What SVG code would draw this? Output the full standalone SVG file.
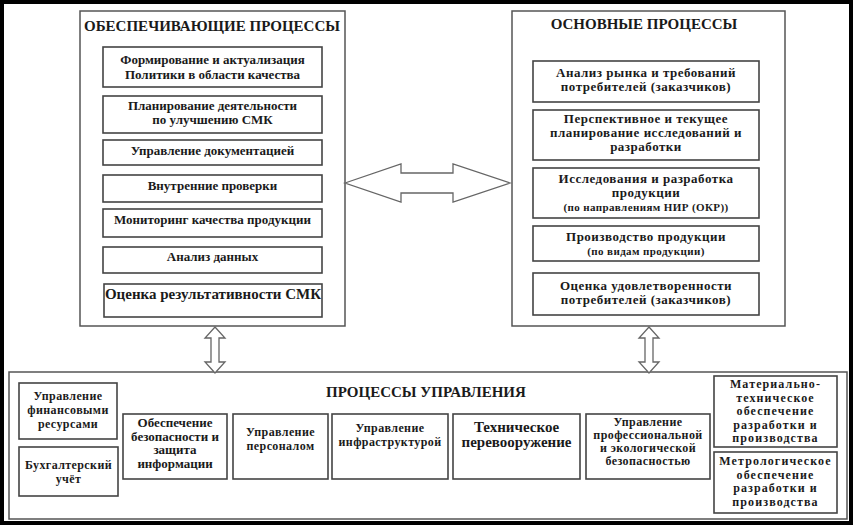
<svg xmlns="http://www.w3.org/2000/svg" width="853" height="525" viewBox="0 0 853 525">
<style>
.frame{fill:#fff;stroke:#555;stroke-width:1.5}
.box{fill:#fff;stroke:#444;stroke-width:1.6}
text{font-family:"Liberation Serif","Times New Roman",serif;font-weight:bold;fill:#1a1a1a;text-anchor:middle}
.t{font-size:15px}
.s13{font-size:13px}
.s12{font-size:12px;letter-spacing:0.4px}
.s11{font-size:11px;letter-spacing:0.4px}
.r13{font-size:13px;letter-spacing:0.5px}
.s15{font-size:15px}
.w12{font-size:12px;letter-spacing:1.1px}
.arr{fill:#fff;stroke:#666;stroke-width:1.3;stroke-linejoin:miter}
</style>
<rect x="0" y="0" width="853" height="525" fill="#000"/>
<rect x="4" y="4" width="845" height="517" fill="#fff"/>

<g id="support">
<rect class="frame" x="80" y="11" width="265" height="315"/>
<text class="t" x="212" y="31">ОБЕСПЕЧИВАЮЩИЕ ПРОЦЕССЫ</text>
</g>
<g id="s1"><rect class="box" x="103" y="47" width="219" height="40"/>
<text class="s13" x="212.5" y="64">Формирование и актуализация</text>
<text class="s13" x="212.5" y="79">Политики в области качества</text></g>
<g id="s2"><rect class="box" x="103" y="96" width="219" height="37"/>
<text class="s13" x="212.5" y="110">Планирование деятельности</text>
<text class="s13" x="212.5" y="124">по улучшению СМК</text></g>
<g id="s3"><rect class="box" x="103" y="140" width="219" height="25"/>
<text class="s13" x="212.5" y="155">Управление документацией</text></g>
<g id="s4"><rect class="box" x="103" y="175" width="219" height="27"/>
<text class="s13" x="212.5" y="190">Внутренние проверки</text></g>
<g id="s5"><rect class="box" x="103" y="209" width="219" height="28"/>
<text class="s13" x="212.5" y="224">Мониторинг качества продукции</text></g>
<g id="s6"><rect class="box" x="103" y="247" width="219" height="26"/>
<text class="s13" x="212.5" y="261">Анализ данных</text></g>
<g id="s7"><rect class="box" x="104" y="284" width="218" height="33"/>
<text class="s15" x="213" y="299">Оценка результативности СМК</text></g>

<g id="main">
<rect class="frame" x="512" y="11" width="273" height="315"/>
<text class="t" x="644" y="29">ОСНОВНЫЕ ПРОЦЕССЫ</text>
</g>
<g id="m1"><rect class="box" x="533" y="61" width="226" height="41"/>
<text class="r13" x="646" y="77">Анализ рынка и требований</text>
<text class="r13" x="646" y="91">потребителей (заказчиков)</text></g>
<g id="m2"><rect class="box" x="533" y="110" width="226" height="50"/>
<text class="r13" x="646" y="123">Перспективное и текущее</text>
<text class="r13" x="646" y="137">планирование исследований и</text>
<text class="r13" x="646" y="151">разработки</text></g>
<g id="m3"><rect class="box" x="533" y="168" width="226" height="50"/>
<text class="r13" x="646" y="183">Исследования и разработка</text>
<text class="r13" x="646" y="197">продукции</text>
<text class="s11" x="646" y="211">(по направлениям НИР (ОКР))</text></g>
<g id="m4"><rect class="box" x="533" y="226" width="226" height="35"/>
<text class="r13" x="646" y="241">Производство продукции</text>
<text class="s11" x="646" y="255">(по видам продукции)</text></g>
<g id="m5"><rect class="box" x="533" y="273" width="226" height="42"/>
<text class="r13" x="646" y="290">Оценка удовлетворенности</text>
<text class="r13" x="646" y="304">потребителей (заказчиков)</text></g>

<g id="mgmt">
<rect class="frame" x="9" y="372" width="838" height="147"/>
<text class="t" x="426" y="397">ПРОЦЕССЫ УПРАВЛЕНИЯ</text>
</g>
<g id="b1"><rect class="box" x="19" y="383" width="98" height="56"/>
<text class="s12" x="68" y="400">Управление</text>
<text class="s12" x="68" y="414">финансовыми</text>
<text class="s12" x="68" y="428">ресурсами</text></g>
<g id="b2"><rect class="box" x="19" y="447" width="99" height="49"/>
<text class="s12" x="68.5" y="469">Бухгалтерский</text>
<text class="s12" x="68.5" y="483">учёт</text></g>
<g id="b3"><rect class="box" x="123" y="414" width="104" height="65"/>
<text class="s13" x="175" y="427">Обеспечение</text>
<text class="s13" x="175" y="440.5">безопасности и</text>
<text class="s13" x="175" y="454">защита</text>
<text class="s13" x="175" y="467.5">информации</text></g>
<g id="b4"><rect class="box" x="233" y="414" width="95" height="65"/>
<text class="s12" x="280.5" y="436">Управление</text>
<text class="s12" x="280.5" y="450">персоналом</text></g>
<g id="b5"><rect class="box" x="332" y="414" width="116" height="65"/>
<text class="s12" x="390" y="432">Управление</text>
<text class="s12" x="390" y="446">инфраструктурой</text></g>
<g id="b6"><rect class="box" x="453" y="414" width="127" height="65"/>
<text class="s15" x="516.5" y="432">Техническое</text>
<text class="s15" x="516.5" y="447">перевооружение</text></g>
<g id="b7"><rect class="box" x="586" y="414" width="124" height="65"/>
<text class="s12" x="648" y="426">Управление</text>
<text class="s12" x="648" y="439">профессиональной</text>
<text class="s12" x="648" y="452">и экологической</text>
<text class="s12" x="648" y="465">безопасностью</text></g>
<g id="b8"><rect class="box" x="714" y="376" width="123" height="71"/>
<text class="w12" x="775.5" y="388">Материально-</text>
<text class="w12" x="775.5" y="401.5">техническое</text>
<text class="w12" x="775.5" y="415">обеспечение</text>
<text class="w12" x="775.5" y="428.5">разработки и</text>
<text class="w12" x="775.5" y="442">производства</text></g>
<g id="b9"><rect class="box" x="714" y="452" width="123" height="61"/>
<text class="w12" x="775.5" y="465">Метрологическое</text>
<text class="w12" x="775.5" y="478.5">обеспечение</text>
<text class="w12" x="775.5" y="492">разработки и</text>
<text class="w12" x="775.5" y="505.5">производства</text></g>

<g id="connectors">
<polygon class="arr" points="345,183 401,164 401,173 453,173 453,164 510,183 453,202 453,193 401,193 401,202"/>
<polygon class="arr" points="215,327 225,338 219,338 219,362 225,362 215,373 205,362 211,362 211,338 205,338"/>
<polygon class="arr" points="649,327 659,338 653,338 653,362 659,362 649,373 639,362 645,362 645,338 639,338"/>
</g>
</svg>
